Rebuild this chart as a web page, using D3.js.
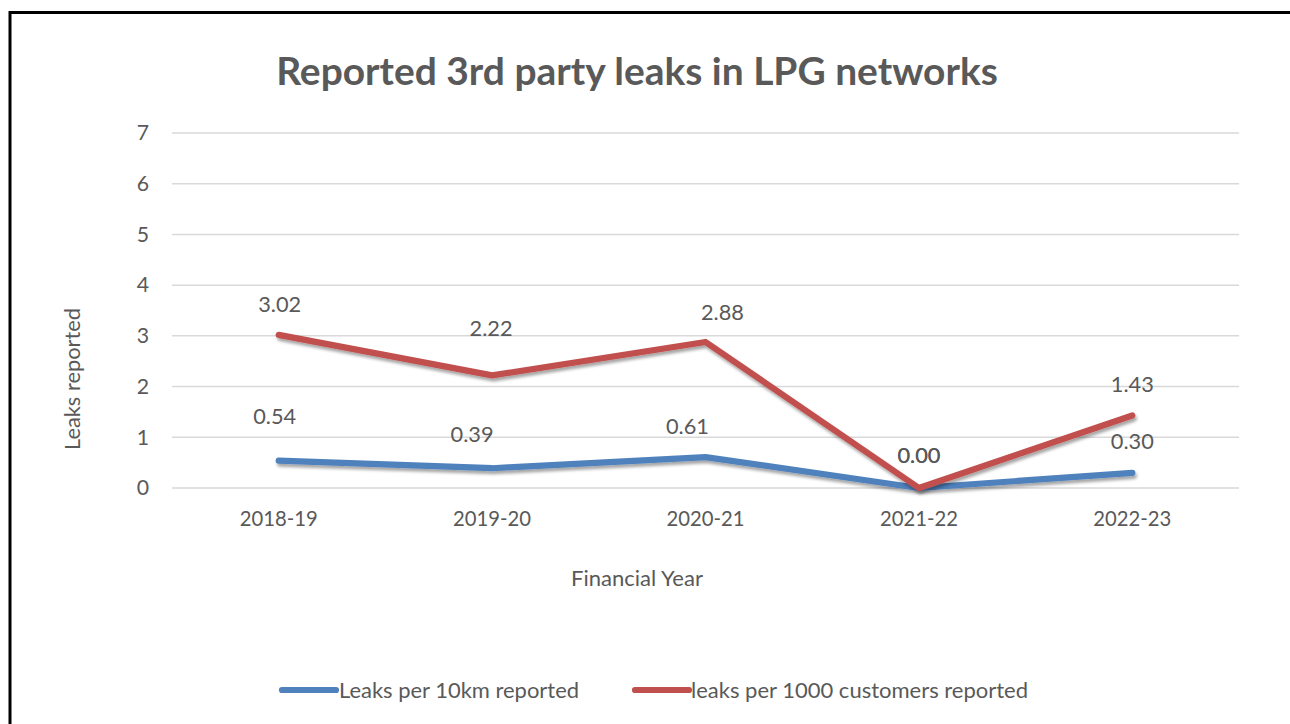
<!DOCTYPE html>
<html>
<head>
<meta charset="utf-8">
<script src="https://cdn.jsdelivr.net/npm/d3@7"></script>
<style>
html,body{margin:0;padding:0;background:#fff;}
svg{display:block;}
text{font-family:Lato,"Open Sans",sans-serif;fill:#595959;}
</style>
</head>
<body>
<svg id="chart" width="1290" height="724"></svg>
<script>
// ---- data ----
const categories = ["2018-19","2019-20","2020-21","2021-22","2022-23"];
const leaksPer10km = [0.54, 0.39, 0.61, 0.00, 0.30];
const leaksPer1000Customers = [3.02, 2.22, 2.88, 0.00, 1.43];
const yTicks = [0,1,2,3,4,5,6,7];
const seriesNames = ["Leaks per 10km reported","leaks per 1000 customers reported"];
const titleText = "Reported 3rd party leaks in LPG networks";
const xTitle = "Financial Year";
const yTitle = "Leaks reported";

// ---- layout (label nudges as placed in the original) ----
const labelNudgeBlue = [[-4,-44],[-20,-34],[-18,-31],[0,-33],[0,-32]];
const labelNudgeRed  = [[1,-31],[-1,-47],[17,-30],[0,-33],[0,-31]];

const svg = d3.select("#chart");
const margin = {left:172, right:1239, top:133, bottom:488};

const x = d3.scaleBand().domain(categories).range([margin.left, margin.right]);
const y = d3.scaleLinear().domain([0,7]).range([margin.bottom, margin.top]);
const cx = c => x(c) + x.bandwidth()/2;

function fit(sel, target){
  const base = parseFloat(sel.attr("font-size"));
  const w = sel.node().getComputedTextLength();
  sel.attr("font-size", (base*target/w).toFixed(2));
}

// border
svg.append("rect").attr("x",10).attr("y",12.5).attr("width",1400).attr("height",800)
  .attr("fill","none").attr("stroke","#000").attr("stroke-width",3);

// shadow filter
const defs = svg.append("defs");
const f = defs.append("filter").attr("id","sh").attr("x","-5%").attr("y","-20%").attr("width","110%").attr("height","160%");
f.append("feDropShadow").attr("dx",1.5).attr("dy",3).attr("stdDeviation",1.8)
  .attr("flood-color","#000").attr("flood-opacity",0.35);

// title
const t = svg.append("text").attr("x",637).attr("y",85).attr("text-anchor","middle")
  .attr("font-size",36).attr("font-weight","bold").text(titleText);
fit(t, 722);

// gridlines
svg.append("g").selectAll("line").data(yTicks).join("line")
  .attr("x1",margin.left).attr("x2",margin.right)
  .attr("y1",d=>y(d)).attr("y2",d=>y(d))
  .attr("stroke","#d9d9d9").attr("stroke-width",1.5);

// y axis
const yAxis = svg.append("g").attr("transform",`translate(${margin.left},0)`)
  .call(d3.axisLeft(y).tickValues(yTicks).tickSize(0).tickPadding(23).tickFormat(d3.format("d")));
yAxis.select(".domain").remove();
yAxis.selectAll("text").attr("font-size",20).attr("font-family",null).attr("fill","#595959");

// x axis
const xAxis = svg.append("g").attr("transform",`translate(0,${margin.bottom})`)
  .call(d3.axisBottom(x).tickSize(0).tickPadding(24));
xAxis.select(".domain").remove();
const xt = xAxis.selectAll("text").attr("font-size",20).attr("font-family",null).attr("fill","#595959");
const ts = parseFloat(xt.attr("font-size")) * 78 / xt.node().getComputedTextLength();
xt.attr("font-size",ts);
yAxis.selectAll("text").attr("font-size",ts*1.05);

// axis titles
const xtit = svg.append("text").attr("x",637).attr("y",586).attr("text-anchor","middle")
  .attr("font-size",20).text(xTitle);
fit(xtit,132);
const ytit = svg.append("text").attr("transform","translate(80,379) rotate(-90)")
  .attr("text-anchor","middle").attr("font-size",20).text(yTitle);
fit(ytit,142);

// lines
const line = d3.line().x((d,i)=>cx(categories[i])).y(d=>y(d));
const series = [
  {vals:leaksPer10km, color:"#4f81bd", nudge:labelNudgeBlue},
  {vals:leaksPer1000Customers, color:"#c0504d", nudge:labelNudgeRed}
];
series.forEach(s=>{
  svg.append("path").datum(s.vals).attr("d",line)
    .attr("fill","none").attr("stroke",s.color).attr("stroke-width",6.2)
    .attr("stroke-linecap","round").attr("stroke-linejoin","round")
    .attr("filter","url(#sh)");
});

// data labels
let lblSize = null;
series.forEach(s=>{
  const g = svg.append("g");
  const lt = g.selectAll("text").data(s.vals).join("text")
    .attr("x",(d,i)=>cx(categories[i]) + s.nudge[i][0])
    .attr("y",(d,i)=>y(d) + s.nudge[i][1])
    .attr("dy","0.36em").attr("text-anchor","middle")
    .attr("font-size",20).text(d=>d3.format(".2f")(d));
  if(lblSize===null){
    lblSize = 20*43/lt.node().getComputedTextLength();
  }
  lt.attr("font-size",lblSize);
});

// legend
const leg = [
  {x1:282,x2:336,tx:339,w:240,color:"#4f81bd",name:seriesNames[0]},
  {x1:635,x2:689,tx:691,w:337,color:"#c0504d",name:seriesNames[1]}
];
leg.forEach(l=>{
  svg.append("line").attr("x1",l.x1).attr("x2",l.x2).attr("y1",690).attr("y2",690)
    .attr("stroke",l.color).attr("stroke-width",6.2).attr("stroke-linecap","round");
  const lt = svg.append("text").attr("x",l.tx).attr("y",690).attr("dy","0.36em")
    .attr("font-size",20).text(l.name);
  fit(lt,l.w);
});
</script>
</body>
</html>
